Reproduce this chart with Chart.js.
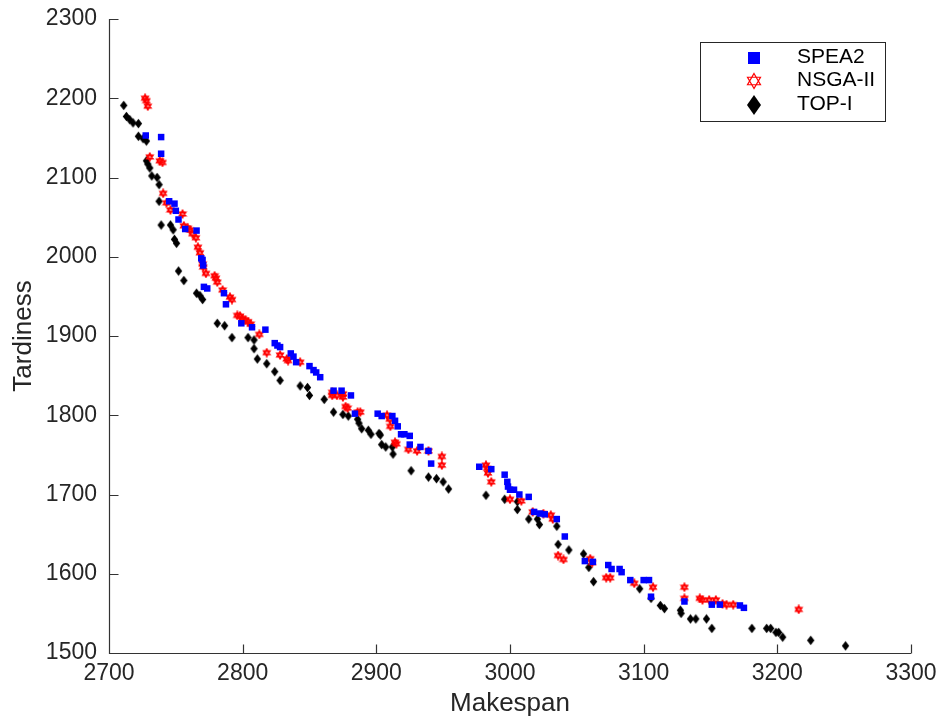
<!DOCTYPE html>
<html>
<head>
<meta charset="utf-8">
<script src="https://cdn.jsdelivr.net/npm/chart.js@4.4.1/dist/chart.umd.min.js"></script>
<style>
html, body { margin: 0; padding: 0; background: #fff; }
#wrap { width: 944px; height: 722px; }
</style>
</head>
<body>
<div id="wrap"><canvas id="chart" width="944" height="722"></canvas></div>
<script>
const xTickValues = [2700, 2800, 2900, 3000, 3100, 3200, 3300];
const yTickValues = [1500, 1600, 1700, 1800, 1900, 2000, 2100, 2200, 2300];
const seriesNames = ['SPEA2', 'NSGA-II', 'TOP-I'];

const spea2Makespan = [2727.5, 2739, 2739, 2745, 2749, 2750, 2752, 2757, 2765.5, 2769, 2770, 2770.5, 2771, 2773.5,
  2786, 2787.5, 2799, 2807, 2817, 2824, 2826, 2828, 2836, 2838, 2840, 2850, 2853, 2855, 2858, 2868, 2874, 2881,
  2884, 2901, 2904, 2912, 2914, 2916, 2918.5, 2921, 2925, 2925, 2933, 2939, 2941, 2977, 2986, 2996, 2998, 2998.5,
  3000, 3003, 3007, 3014, 3018, 3022.5, 3026, 3035, 3041, 3056, 3062, 3073.5, 3076, 3082, 3083.5, 3090, 3100,
  3104, 3105.5, 3130.5, 3151, 3157, 3172, 3175];
const spea2Tardiness = [2153, 2151, 2130, 2070, 2067, 2058, 2047, 2035, 2033, 1998, 1996, 1989, 1962, 1960,
  1954, 1940, 1916, 1911, 1908, 1891, 1888, 1886, 1878, 1874, 1867, 1862, 1857, 1854, 1848, 1831, 1831, 1825,
  1802, 1802, 1799, 1799, 1793, 1786, 1776, 1776, 1774, 1763, 1760, 1755, 1739, 1735, 1732, 1725, 1716, 1710,
  1706, 1706, 1700, 1697, 1678, 1676, 1675, 1669, 1647, 1616, 1615, 1611, 1606, 1606, 1602, 1592, 1592,
  1592, 1571, 1565, 1561, 1561, 1560, 1557];

const nsgaMakespan = [2727, 2728, 2729, 2730.5, 2738, 2740, 2740.5, 2743, 2746, 2755, 2756, 2759, 2760.5, 2762.5,
  2765, 2766.5, 2768, 2770, 2770.5, 2772.5, 2779, 2780, 2781, 2785, 2790.5, 2792, 2796, 2798, 2800, 2802, 2804,
  2806, 2812.5, 2818, 2828, 2833, 2834, 2843, 2867, 2867, 2870.5, 2875, 2875, 2877, 2878.5, 2886, 2888, 2908,
  2910, 2910.5, 2914, 2915, 2924, 2930.5, 2939, 2949, 2949, 2982, 2983, 2983.5, 2986, 3000, 3008.5, 3017, 3025,
  3030.5, 3032, 3036, 3040, 3060, 3061.5, 3072, 3075, 3093, 3107, 3130.5, 3130.5, 3142, 3144, 3149, 3154, 3159,
  3162, 3167, 3216];
const nsgaTardiness = [2200, 2197, 2190, 2126, 2121, 2119, 2080, 2068, 2059, 2054, 2039, 2036, 2034, 2029,
  2024, 2012, 2005, 1991, 1987, 1979, 1976, 1973, 1968, 1958, 1949, 1946, 1926, 1925, 1922, 1920, 1918,
  1915, 1902, 1879, 1876, 1871, 1869, 1867, 1829, 1825, 1825, 1823, 1827, 1811, 1809, 1804, 1804, 1800,
  1795, 1786, 1766, 1764, 1757, 1755, 1755, 1748, 1737, 1737, 1733, 1727, 1716, 1694, 1692, 1678, 1676,
  1674, 1669, 1623, 1618, 1619, 1614, 1595, 1595, 1588, 1583, 1583, 1569, 1569, 1567, 1567, 1567, 1562,
  1561, 1561, 1555];

const topMakespan = [2711, 2713, 2715.5, 2718, 2722, 2722, 2725.5, 2728, 2728, 2729, 2730.5, 2732, 2736, 2737.5,
  2737.5, 2739, 2746, 2748, 2749, 2750.5, 2752, 2756, 2765.5, 2768, 2770, 2781, 2786.5, 2792, 2804, 2808.5,
  2808.5, 2811, 2818, 2824, 2828, 2843, 2848.5, 2850, 2861, 2868, 2875, 2879, 2886, 2887, 2889, 2894, 2896,
  2902, 2903, 2904, 2907, 2912, 2912.5, 2926, 2939, 2945, 2950, 2954, 2982, 2996, 3005.5, 3005.5, 3014,
  3020.5, 3022, 3035, 3036, 3044, 3055, 3059, 3062.5, 3097, 3105.5, 3112.5, 3115.5, 3127.5, 3128, 3135, 3139,
  3147, 3151, 3181, 3192, 3195, 3199, 3201, 3204, 3225, 3251];
const topTardiness = [2191, 2177, 2173, 2169, 2168, 2152, 2149, 2146, 2121, 2117, 2112, 2102, 2100, 2091,
  2070, 2040, 2040, 2034, 2022, 2017, 1982, 1970, 1954, 1951, 1946, 1916, 1913, 1898, 1898, 1895,
  1884, 1871, 1865, 1855, 1844, 1837, 1835, 1825, 1820, 1804, 1801, 1799, 1795, 1790, 1783, 1781, 1776,
  1777, 1775, 1763, 1760, 1760, 1751, 1730, 1722, 1720, 1716, 1707, 1699, 1694, 1691, 1681, 1669,
  1669, 1662, 1660, 1637, 1630, 1625, 1608, 1590, 1581, 1569, 1560, 1556, 1554, 1550, 1543, 1543,
  1543, 1531, 1531, 1531, 1531, 1526, 1526, 1520, 1516, 1509];

const FONT = '"Liberation Sans", Arial, Helvetica, sans-serif';
const TEXT = '#262626';

function toPoints(xs, ys) {
    return xs.map((x, i) => ({ x: x, y: ys[i] }));
}

function hexagramPath(ctx, cx, cy, r) {
    ctx.beginPath();
    for (let t = 0; t < 2; t++) {
        for (let k = 0; k < 3; k++) {
            const a = -Math.PI / 2 + t * Math.PI + k * 2 * Math.PI / 3;
            const px = cx + r * Math.cos(a), py = cy + r * Math.sin(a);
            if (k === 0) ctx.moveTo(px, py); else ctx.lineTo(px, py);
        }
        ctx.closePath();
    }
}

function diamondPath(ctx, cx, cy, hw, hh) {
    ctx.beginPath();
    ctx.moveTo(cx, cy - hh);
    ctx.lineTo(cx + hw, cy);
    ctx.lineTo(cx, cy + hh);
    ctx.lineTo(cx - hw, cy);
    ctx.closePath();
}

// small marker images for the plot
function makeStar() {
    const c = document.createElement('canvas');
    c.width = 10; c.height = 10;
    const g = c.getContext('2d');
    g.strokeStyle = '#ff0000';
    g.fillStyle = 'rgba(255,0,0,0.55)';
    g.lineWidth = 1.6;
    hexagramPath(g, 5, 5, 3.6);
    g.fill();
    g.stroke();
    return c;
}

function makeDiamond() {
    const c = document.createElement('canvas');
    c.width = 9; c.height = 11;
    const g = c.getContext('2d');
    g.fillStyle = '#000';
    diamondPath(g, 4.5, 5.5, 3.7, 4.8);
    g.fill();
    return c;
}

const axesPlugin = {
    id: 'axes',
    beforeDatasetsDraw(chart) {
        const { ctx, chartArea: a, scales: { x, y } } = chart;
        ctx.save();
        ctx.strokeStyle = '#333';
        ctx.lineWidth = 1.2;
        ctx.beginPath();
        const l = Math.round(a.left) + 0.5, b = Math.round(a.bottom) + 0.5;
        ctx.moveTo(l, a.top);
        ctx.lineTo(l, b);
        ctx.lineTo(a.right, b);
        xTickValues.forEach(v => {
            const px = Math.round(x.getPixelForValue(v)) + 0.5;
            ctx.moveTo(px, b);
            ctx.lineTo(px, b - 9);
        });
        yTickValues.forEach(v => {
            const py = Math.round(y.getPixelForValue(v)) + 0.5;
            ctx.moveTo(l, py);
            ctx.lineTo(l + 9, py);
        });
        ctx.stroke();
        ctx.restore();
    }
};

const legendPlugin = {
    id: 'boxLegend',
    afterDraw(chart) {
        const ctx = chart.ctx;
        const bx = 700.5, by = 42.5, bw = 185, bh = 79;
        ctx.save();
        ctx.fillStyle = '#fff';
        ctx.fillRect(bx, by, bw, bh);
        ctx.strokeStyle = '#262626';
        ctx.lineWidth = 1;
        ctx.strokeRect(bx, by, bw, bh);

        const mx = 754, rows = [58, 81, 105];
        // SPEA2 square
        ctx.fillStyle = '#0000ff';
        ctx.fillRect(mx - 6, rows[0] - 6, 12, 12);
        // NSGA-II hexagram
        ctx.strokeStyle = '#ff0000';
        ctx.lineWidth = 1.2;
        hexagramPath(ctx, mx, rows[1], 7.5);
        ctx.stroke();
        // TOP-I diamond
        ctx.fillStyle = '#000';
        diamondPath(ctx, mx, rows[2], 7, 10);
        ctx.fill();

        ctx.fillStyle = '#000';
        ctx.font = '21px ' + FONT;
        ctx.textBaseline = 'middle';
        ctx.textAlign = 'left';
        seriesNames.forEach((n, i) => ctx.fillText(n, 797, rows[i] - 1));
        ctx.restore();
    }
};

const tickFont = { family: FONT, size: 23 };
const titleFont = { family: FONT, size: 26 };

new Chart(document.getElementById('chart'), {
    type: 'scatter',
    data: {
        datasets: [
            {
                label: seriesNames[0],
                data: toPoints(spea2Makespan, spea2Tardiness),
                pointStyle: 'rect',
                pointRadius: 4.6,
                backgroundColor: '#0000ff',
                borderWidth: 0
            },
            {
                label: seriesNames[1],
                data: toPoints(nsgaMakespan, nsgaTardiness),
                pointStyle: makeStar(),
                pointRadius: 5
            },
            {
                label: seriesNames[2],
                data: toPoints(topMakespan, topTardiness),
                pointStyle: makeDiamond(),
                pointRadius: 5
            }
        ]
    },
    options: {
        responsive: false,
        animation: false,
        events: [],
        layout: { padding: { top: 19, right: 33, left: 0, bottom: 0 } },
        plugins: {
            legend: { display: false },
            tooltip: { enabled: false }
        },
        scales: {
            x: {
                type: 'linear',
                min: 2700,
                max: 3300,
                afterBuildTicks: s => { s.ticks = xTickValues.map(v => ({ value: v })); },
                afterFit: s => { s.height = 69; s.paddingLeft = 0; s.paddingRight = 0; },
                grid: { display: false, drawTicks: false },
                border: { display: false },
                ticks: { font: tickFont, color: TEXT, padding: 7, maxRotation: 0, autoSkip: false, callback: v => String(v) },
                title: { display: true, text: 'Makespan', font: titleFont, color: TEXT, padding: { top: 0, bottom: 3 } }
            },
            y: {
                type: 'linear',
                min: 1500,
                max: 2300,
                afterBuildTicks: s => { s.ticks = yTickValues.map(v => ({ value: v })); },
                afterFit: s => { s.width = 109; s.paddingTop = 0; s.paddingBottom = 0; },
                grid: { display: false, drawTicks: false },
                border: { display: false },
                ticks: { font: tickFont, color: TEXT, padding: 12, autoSkip: false, callback: v => String(v) },
                title: { display: true, text: 'Tardiness', font: titleFont, color: TEXT, padding: { top: 8, bottom: 0 } }
            }
        }
    },
    plugins: [axesPlugin, legendPlugin]
});
</script>
</body>
</html>
